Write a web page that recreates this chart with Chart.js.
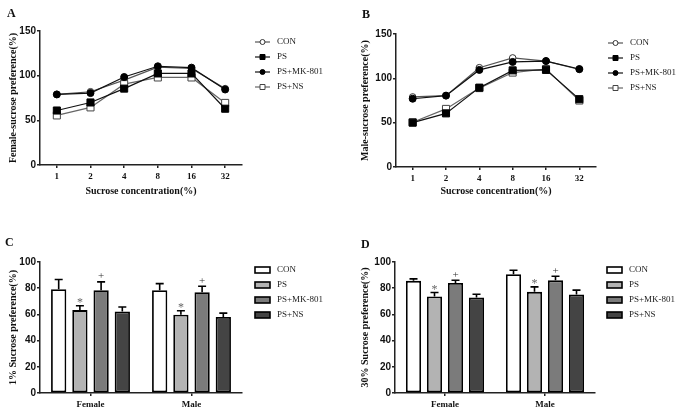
<!DOCTYPE html>
<html>
<head>
<meta charset="utf-8">
<script src="https://cdn.jsdelivr.net/npm/chart.js@4/dist/chart.umd.min.js"></script>
<style>
  body { margin: 0; background: #fff; }
  #wrap { position: relative; width: 683px; height: 413px; overflow: hidden; background: #fff; }
  canvas { position: absolute; }
  .tag { position: absolute; font: bold 12px "Liberation Serif", serif; line-height: 12px; color: #111; }
</style>
</head>
<body>
<div id="wrap">
  <canvas id="chartA" width="341" height="206" style="left:0;top:0"></canvas>
  <canvas id="chartB" width="342" height="206" style="left:341px;top:0"></canvas>
  <canvas id="chartC" width="341" height="207" style="left:0;top:206px"></canvas>
  <canvas id="chartD" width="342" height="207" style="left:341px;top:206px"></canvas>
  <div class="tag" style="left:7px;top:7px">A</div>
  <div class="tag" style="left:362px;top:8px">B</div>
  <div class="tag" style="left:5px;top:236px">C</div>
  <div class="tag" style="left:361px;top:238px">D</div>
</div>
<script>
// categories and tick labels
const concLabels = ['1', '2', '4', '8', '16', '32'];
const groupLabels = ['Female', 'Male'];
const seriesNames = ['CON', 'PS', 'PS+MK-801', 'PS+NS'];
const lineTicks = [0, 50, 100, 150];
const barTicks = [0, 20, 40, 60, 80, 100];

// A: female sucrose preference by concentration
const femaleCON = [79, 82, 95, 109.5, 108, 85.5];
const femalePS = [61, 70, 85.5, 102.5, 102.5, 63];
const femaleMK = [79, 80.5, 98.5, 110.5, 109, 84.5];
const femaleNS = [55.5, 64.5, 90.5, 98, 98, 69.5];

// B: male sucrose preference by concentration
const maleCON = [79, 80.5, 112, 123, 119.5, 110];
const malePS = [50, 60.5, 89.5, 109, 109.5, 76.5];
const maleMK = [77, 80.5, 109.5, 118.5, 119.5, 110.5];
const maleNS = [50.5, 65.5, 89, 106.5, 110.5, 75];

// C: 1% sucrose preference (mean, error)
const oneCON = [79.2, 78.5], oneCONErr = [7.4, 5];
const onePS = [63.3, 59.7], onePSErr = [3.3, 3.1];
const oneMK = [78.5, 77], oneMKErr = [6.3, 4.5];
const oneNS = [62.3, 58], oneNSErr = [3.3, 3];

// D: 30% sucrose preference (mean, error)
const thirtyCON = [85.6, 90.6], thirtyCONErr = [1.5, 3.1];
const thirtyPS = [73.7, 77.2], thirtyPSErr = [3, 3.8];
const thirtyMK = [84, 86], thirtyMKErr = [2.1, 3.1];
const thirtyNS = [72.9, 75.2], thirtyNSErr = [2.5, 3.3];

const sigPS = ['*', '*'];
const sigMK = ['+', '+'];

Chart.defaults.font.family = '"Liberation Serif", serif';
Chart.defaults.color = '#222';

// legend drawn at the right of each panel, from the datasets
const sideLegend = {
  id: 'sideLegend',
  afterDraw(chart, args, opts) {
    const ctx = chart.ctx;
    ctx.save();
    ctx.font = '9px "Liberation Serif"';
    ctx.textBaseline = 'middle';
    chart.data.datasets.forEach((ds, i) => {
      const x = opts.x;
      const y = opts.y + i * opts.dy;
      if (opts.kind === 'bar') {
        ctx.fillStyle = ds.backgroundColor;
        ctx.fillRect(x, y - 3, 15, 6);
        ctx.lineWidth = 1.6;
        ctx.strokeStyle = '#000';
        ctx.strokeRect(x, y - 3, 15, 6);
      } else {
        ctx.strokeStyle = ds.borderColor;
        ctx.lineWidth = 1.2;
        ctx.beginPath();
        ctx.moveTo(x, y);
        ctx.lineTo(x + 15, y);
        ctx.stroke();
        ctx.fillStyle = ds.pointBackgroundColor;
        ctx.strokeStyle = ds.pointBorderColor;
        ctx.lineWidth = 1;
        ctx.beginPath();
        if (ds.pointStyle === 'rect') ctx.rect(x + 5, y - 2.5, 5, 5);
        else ctx.arc(x + 7.5, y, 2.5, 0, Math.PI * 2);
        ctx.fill();
        ctx.stroke();
      }
      ctx.fillStyle = '#222';
      ctx.fillText(ds.label, x + 22, y);
    });
    ctx.restore();
  }
};

// upward error bars plus significance marks
const errorBars = {
  id: 'errorBars',
  afterDatasetsDraw(chart) {
    const ctx = chart.ctx;
    const yScale = chart.scales.y;
    chart.data.datasets.forEach((ds, i) => {
      if (!ds.errors) return;
      const meta = chart.getDatasetMeta(i);
      meta.data.forEach((bar, j) => {
        const top = yScale.getPixelForValue(ds.data[j] + ds.errors[j]);
        ctx.save();
        ctx.strokeStyle = '#000';
        ctx.lineWidth = 1.6;
        ctx.beginPath();
        ctx.moveTo(bar.x, bar.y);
        ctx.lineTo(bar.x, top);
        ctx.moveTo(bar.x - 4, top);
        ctx.lineTo(bar.x + 4, top);
        ctx.stroke();
        if (ds.marks && ds.marks[j]) {
          const star = ds.marks[j] === '*';
          ctx.fillStyle = star ? '#666' : '#333';
          ctx.font = (star ? '12px' : '11px') + ' "Liberation Serif"';
          ctx.textAlign = 'center';
          ctx.textBaseline = 'bottom';
          ctx.fillText(ds.marks[j], bar.x, top + (star ? 3 : 0));
        }
        ctx.restore();
      });
    });
  }
};

function axisBase() {
  return {
    border: { display: true, color: '#222', width: 1.5 },
    grid: { drawOnChartArea: false, drawTicks: true, tickLength: 3, color: '#222', lineWidth: 1.5 }
  };
}

function yAxis(title, ticksArr, max, width, titlePad) {
  return Object.assign(axisBase(), {
    min: 0,
    max: max,
    afterFit: s => { s.width = width; },
    afterBuildTicks: s => { s.ticks = ticksArr.map(v => ({ value: v })); },
    ticks: { padding: 1, color: '#111', font: { family: '"Liberation Sans", Arial, sans-serif', weight: 'bold', size: 10 } },
    title: { display: true, text: title, color: '#111', padding: { top: titlePad }, font: { weight: 'bold', size: 10 } }
  });
}

function lineSets(con, ps, mk, ns) {
  const common = { borderWidth: 1.2, pointBorderWidth: 1, tension: 0, fill: false };
  return [
    Object.assign({ label: seriesNames[0], data: con, borderColor: '#555', pointStyle: 'circle', pointRadius: 3.3,
      pointBackgroundColor: '#fff', pointBorderColor: '#333', order: 3 }, common),
    Object.assign({ label: seriesNames[1], data: ps, borderColor: '#111', pointStyle: 'rect', pointRadius: 5,
      pointBackgroundColor: '#000', pointBorderColor: '#000', order: 1 }, common),
    Object.assign({ label: seriesNames[2], data: mk, borderColor: '#111', pointStyle: 'circle', pointRadius: 3.5,
      pointBackgroundColor: '#000', pointBorderColor: '#000', order: 0 }, common),
    Object.assign({ label: seriesNames[3], data: ns, borderColor: '#666', pointStyle: 'rect', pointRadius: 5,
      pointBackgroundColor: '#fff', pointBorderColor: '#444', order: 2 }, common)
  ];
}

function makeLine(id, yTitle, sets, box) {
  return new Chart(document.getElementById(id), {
    type: 'line',
    data: { labels: concLabels, datasets: sets },
    plugins: [sideLegend],
    options: {
      responsive: false,
      animation: false,
      devicePixelRatio: 1,
      layout: { padding: { left: 0, top: box.top, right: box.right, bottom: 0 } },
      plugins: {
        legend: { display: false },
        tooltip: { enabled: false },
        sideLegend: { x: box.legX, y: box.legY, dy: 15 }
      },
      scales: {
        x: Object.assign(axisBase(), {
          offset: true,
          afterFit: s => { s.height = box.xh; },
          ticks: { padding: 3, color: '#111', font: { weight: 'bold', size: 9 } },
          title: { display: true, text: 'Sucrose concentration(%)', color: '#111', padding: { bottom: 8.5 }, font: { weight: 'bold', size: 10 } }
        }),
        y: yAxis(yTitle, lineTicks, 150, box.yw, box.titlePad)
      }
    }
  });
}

function barSets(con, conErr, ps, psErr, mk, mkErr, ns, nsErr) {
  const common = { borderColor: '#000', borderWidth: 1.8, borderSkipped: false, barPercentage: 0.72, categoryPercentage: 0.84 };
  return [
    Object.assign({ label: seriesNames[0], data: con, errors: conErr, backgroundColor: '#ffffff' }, common),
    Object.assign({ label: seriesNames[1], data: ps, errors: psErr, marks: sigPS, backgroundColor: '#b3b3b3' }, common),
    Object.assign({ label: seriesNames[2], data: mk, errors: mkErr, marks: sigMK, backgroundColor: '#7b7b7b' }, common),
    Object.assign({ label: seriesNames[3], data: ns, errors: nsErr, backgroundColor: '#444444' }, common)
  ];
}

function makeBar(id, yTitle, sets, box) {
  return new Chart(document.getElementById(id), {
    type: 'bar',
    data: { labels: groupLabels, datasets: sets },
    plugins: [errorBars, sideLegend],
    options: {
      responsive: false,
      animation: false,
      devicePixelRatio: 1,
      layout: { padding: { left: 0, top: box.top, right: box.right, bottom: 0 } },
      plugins: {
        legend: { display: false },
        tooltip: { enabled: false },
        sideLegend: { kind: 'bar', x: box.legX, y: box.legY, dy: 15 }
      },
      scales: {
        x: Object.assign(axisBase(), {
          offset: true,
          afterFit: s => { s.height = box.xh; },
          ticks: { padding: 3, color: '#111', font: { weight: 'bold', size: 9 } }
        }, { grid: { offset: false, drawOnChartArea: false, drawTicks: true, tickLength: 3, color: '#222', lineWidth: 1.5 } }),
        y: yAxis(yTitle, barTicks, 100, box.yw, box.titlePad)
      }
    }
  });
}

makeLine('chartA', 'Female-sucrose preference(%)', lineSets(femaleCON, femalePS, femaleMK, femaleNS),
  { top: 31, right: 99, xh: 41, yw: 40, titlePad: 7.5, legX: 255, legY: 42 });
makeLine('chartB', 'Male-sucrose preference(%)', lineSets(maleCON, malePS, maleMK, maleNS),
  { top: 34, right: 87, xh: 39, yw: 55, titlePad: 18, legX: 267, legY: 43 });
makeBar('chartC', '1% Sucrose preference(%)',
  barSets(oneCON, oneCONErr, onePS, onePSErr, oneMK, oneMKErr, oneNS, oneNSErr),
  { top: 56, right: 99, xh: 20, yw: 40, titlePad: 7, legX: 255, legY: 64 });
makeBar('chartD', '30% Sucrose preference(%)',
  barSets(thirtyCON, thirtyCONErr, thirtyPS, thirtyPSErr, thirtyMK, thirtyMKErr, thirtyNS, thirtyNSErr),
  { top: 56, right: 88, xh: 20, yw: 54, titlePad: 18.5, legX: 266, legY: 64 });
</script>
</body>
</html>
